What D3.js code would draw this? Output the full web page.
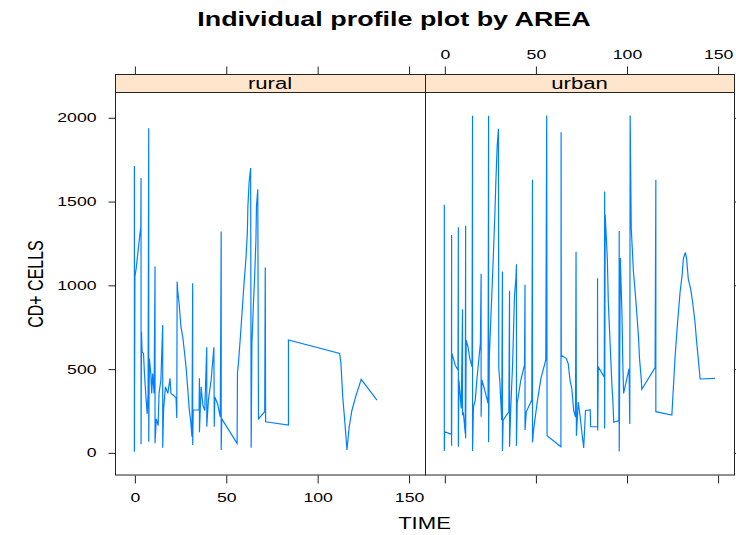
<!DOCTYPE html>
<html>
<head>
<meta charset="utf-8">
<script src="https://cdn.jsdelivr.net/npm/d3@7"></script>
<style>
  html, body { margin: 0; padding: 0; background: #fff; }
  svg { display: block; }
  text { font-family: "Liberation Sans", Arial, sans-serif; fill: #000; }
</style>
</head>
<body>
<svg id="chart" width="736" height="535"></svg>
<script>
// Profiles of CD4 cell counts over time, one continuous trace per area
const panels = ["rural", "urban"];

const ruralTime = [0,0,0.3,1,2,3,3.5,3.65,3.65,3.9,4.2,5,5.5,6.2,7,7.5,7.85,7.85,8.2,9,9.5,10,10.8,11.3,11.3,12,13,13.5,14.5,15.5,15.5,16,17,18.3,19.5,20,21.5,22.8,23.2,23.4,23.7,24.5,25.5,26.5,27.3,28.2,29,30,30.8,31.5,31.9,31.9,32.2,35.4,35.6,35.6,36.5,37.5,38.5,39.6,39.6,40.5,42,43.5,43.7,44,45.5,47,47.5,47.5,47.8,56.2,56.4,57,58,59,60,61,61.8,62.1,62.8,63.6,63.9,64.3,65,65.8,66.5,66.8,67.5,67.9,71.3,71.6,71.8,84.3,84.3,112.3,113,114,115,116.3,117.5,119,121,124.1,132.7];
const ruralCD4 = [1710,4,1049,1100,1200,1300,1340,1637,48,720,600,590,472,352,230,352,1935,63,560,470,352,470,352,1109,55,200,160,352,432,760,27,260,392,352,442,352,340,324,205,1019,965,886,747,687,608,518,408,258,190,93,1010,44,253,253,442,120,392,280,250,627,153,312,432,627,153,330,290,210,1318,14,200,54,472,542,690,850,1010,1149,1310,1467,1617,1697,27,651,850,1050,1270,1467,1571,200,243,1103,183,163,671,591,531,331,200,14,150,250,330,436,312];

const urbanTime = [0,0,0.2,3.9,4,4,4.2,5,6,7.5,7.7,7.7,8,8.6,9.3,10,10,10.5,11.5,11.7,11.7,12,13,14,15.2,15.5,15.5,16,17,18,19.8,20.2,20.2,20.6,22,24,24.3,24.3,24.7,25.5,26.3,27,27.7,28.3,29,29.7,29.9,30.5,31.5,31.9,31.9,32.3,35.4,35.8,35.8,36.5,37.5,38.5,39.3,39.6,39.6,40,42,44,44.3,44.3,45,48,48.4,48.4,49,51,53,55.7,56.2,56.4,64,64.1,64.2,67,68,69,70,71,72,72.3,72.5,73.5,74.5,75.5,76.5,77.5,80.1,80.3,84.1,84.1,84.2,84.5,87.8,88,88,88.3,89.5,90,91,92,92.5,93,95.8,96,96,96.6,97.5,98,98.4,101.4,101.8,102,102.6,103.8,104.8,105.7,106.6,107.1,108.1,108.4,115.7,116.1,116.1,124.9,125.7,126.6,127.9,129.4,130.5,131.2,132.3,133,133.9,135.2,136.3,137.6,138.5,139.4,140.4,148.6];
const urbanCD4 = [1478,8,124,108,1298,40,591,560,520,492,1344,34,432,352,262,854,222,232,112,1352,84,670,630,560,510,2009,8,272,312,450,651,1066,212,432,380,292,2009,60,572,790,1000,1199,1408,1617,1826,1932,502,420,192,1080,8,192,242,965,34,272,530,930,1040,1123,40,292,432,521,1001,134,242,312,1627,60,134,300,440,552,2011,99,34,1911,580,560,530,430,380,250,210,1198,100,300,220,120,26,250,253,153,153,1039,130,510,450,1557,143,1418,1150,900,650,400,312,180,190,1322,5,1160,830,520,352,500,169,2011,1338,1080,953,823,684,566,436,377,506,1627,243,223,382,559,758,956,1055,1155,1194,1155,1036,976,896,777,657,558,438,442];

const xTicks = [0, 50, 100, 150];
const yTicks = [0, 500, 1000, 1500, 2000];

const series = {
  rural: ruralTime.map((t, i) => ({ t, v: ruralCD4[i] })),
  urban: urbanTime.map((t, i) => ({ t, v: urbanCD4[i] }))
};

// Layout
const S = 1.38;                 // horizontal text stretch
const panelTop = 74.5, stripH = 18, panelBottom = 475;
const cols = { rural: [115, 425], urban: [425, 734] };
const tickFont = 12.8, labFont = 16;

const svg = d3.select("#chart");
svg.append("rect").attr("width", 736).attr("height", 535).attr("fill", "#fff");

const y = d3.scaleLinear().domain([-135, 2148]).range([panelBottom, panelTop + stripH]);
const xScales = {};
panels.forEach(p => {
  xScales[p] = d3.scaleLinear().domain([-10.6, 159]).range(cols[p]);
});

const line = (x) => d3.line().x(d => x(d.t)).y(d => y(d.v));

function styleAxis(g) {
  g.select(".domain").remove();
  g.selectAll(".tick line").attr("stroke", "#222").attr("stroke-width", 1);
  g.selectAll(".tick text").attr("font-size", tickFont).attr("fill", "#000")
    .attr("font-family", "'Liberation Sans', Arial, sans-serif");
}

panels.forEach((p, i) => {
  const x = xScales[p];
  const [x0, x1] = cols[p];
  const g = svg.append("g");

  // strip
  g.append("rect")
    .attr("x", x0 + 0.5).attr("y", panelTop)
    .attr("width", x1 - x0).attr("height", stripH)
    .attr("fill", "#ffe5cc").attr("stroke", "#222").attr("stroke-width", 1);
  g.append("text")
    .attr("transform", `translate(${(x0 + x1) / 2},${panelTop + stripH - 4}) scale(${S},1)`)
    .attr("text-anchor", "middle").attr("font-size", labFont).attr("fill", "#111")
    .text(p);

  // clip + trace
  const clipId = "clip-" + p;
  svg.append("clipPath").attr("id", clipId).append("rect")
    .attr("x", x0 + 1).attr("y", panelTop + stripH + 0.5)
    .attr("width", x1 - x0 - 1).attr("height", panelBottom - panelTop - stripH);
  g.append("path")
    .datum(series[p])
    .attr("clip-path", `url(#${clipId})`)
    .attr("fill", "none").attr("stroke", "#0080ff")
    .attr("stroke-width", 1.2).attr("stroke-linejoin", "miter")
    .attr("d", line(x));

  // panel border
  g.append("rect")
    .attr("x", x0 + 0.5).attr("y", panelTop + stripH)
    .attr("width", x1 - x0).attr("height", panelBottom - panelTop - stripH)
    .attr("fill", "none").attr("stroke", "#222").attr("stroke-width", 1);

  // bottom axis
  const bottom = g.append("g").attr("transform", `translate(0.5,${panelBottom + 0.5})`)
    .call(d3.axisBottom(x).tickValues(xTicks).tickSize(8).tickSizeOuter(0).tickPadding(9.5)
      .tickFormat(i === 0 ? d3.format("d") : () => ""));
  styleAxis(bottom);
  bottom.selectAll(".tick text").attr("transform", `scale(${S},1)`);

  // top axis
  const topAx = g.append("g").attr("transform", `translate(0.5,${panelTop})`)
    .call(d3.axisTop(x).tickValues(xTicks).tickSize(8).tickSizeOuter(0).tickPadding(7.5)
      .tickFormat(i === 1 ? d3.format("d") : () => ""));
  styleAxis(topAx);
  topAx.selectAll(".tick text").attr("transform", `scale(${S},1)`);

  // y axes: labels on the left of the first panel, bare ticks on the right of the last
  if (i === 0) {
    const ly = g.append("g").attr("transform", `translate(${x0 + 0.5},0.5)`)
      .call(d3.axisLeft(y).tickValues(yTicks).tickSize(7).tickSizeOuter(0).tickFormat(d3.format("d")));
    styleAxis(ly);
    ly.selectAll(".tick text").attr("x", -19 / S).attr("transform", `scale(${S},1)`);
  } else {
    const ry = g.append("g").attr("transform", `translate(${x1 + 0.5},0.5)`)
      .call(d3.axisRight(y).tickValues(yTicks).tickSize(7).tickSizeOuter(0).tickFormat(() => ""));
    styleAxis(ry);
  }
});

// titles
svg.append("text")
  .attr("transform", `translate(394,26) scale(${S},1)`)
  .attr("text-anchor", "middle").attr("font-size", 19.5).attr("font-weight", "bold")
  .text("Individual profile plot by AREA");

svg.append("text")
  .attr("transform", `translate(424.5,529) scale(${S},1)`)
  .attr("text-anchor", "middle").attr("font-size", labFont)
  .text("TIME");

svg.append("text")
  .attr("transform", `translate(43,284) scale(${S},1) rotate(-90)`)
  .attr("text-anchor", "middle").attr("font-size", labFont)
  .text("CD+ CELLS");
</script>
</body>
</html>
